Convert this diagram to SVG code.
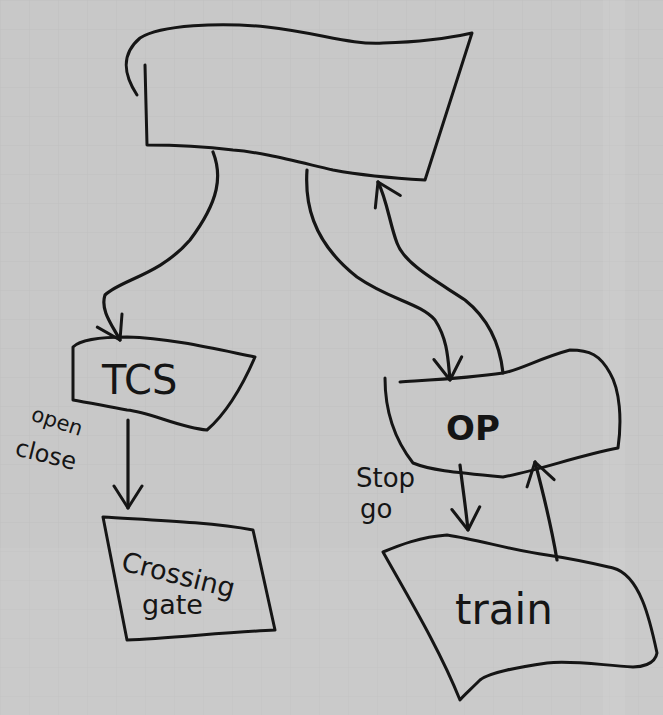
<svg xmlns="http://www.w3.org/2000/svg" width="663" height="715" viewBox="0 0 663 715">
<defs>
<pattern id="grid" width="29" height="29" patternUnits="userSpaceOnUse">
<path d="M29,0 L0,0 L0,29" fill="none" stroke="#c0c0c0" stroke-width="1"/>
</pattern>
<marker id="ah" markerUnits="userSpaceOnUse" markerWidth="40" markerHeight="40" refX="0" refY="0" viewBox="-24 -20 28 40" orient="auto">
<path d="M-22,-14 L0,0 L-22,14" fill="none" stroke="#151515" stroke-width="3" stroke-linecap="round" stroke-linejoin="round"/>
</marker>
<style>
.shape{fill:none;stroke:#151515;stroke-width:3;stroke-linecap:round;stroke-linejoin:round}
.edge{fill:none;stroke:#151515;stroke-width:3.2;stroke-linecap:round;marker-end:url(#ah)}
.t{font-family:"DejaVu Sans","Liberation Sans",sans-serif;fill:#151515}
</style>
</defs>
<rect width="663" height="715" fill="#c8c8c8"/>
<rect width="663" height="715" fill="url(#grid)"/>
<rect x="0" y="548" width="663" height="167" fill="#ffffff" opacity="0.05"/>
<rect x="603" y="0" width="22" height="715" fill="#ffffff" opacity="0.07"/>

<g id="top">
<path class="shape" d="M137,95 C124,75 120,55 140,38 C160,25 220,22 267,27 C320,33 350,45 383,43 C420,42 450,38 472,33 L425,180 C390,178 360,175 333,170 C290,160 260,152 233,150 C200,146 170,145 147,145 L145,65"/>
</g>

<g id="tcs">
<path class="shape" d="M73,347 C80,340 100,337 127,337 C170,338 220,350 255,357 C245,380 230,410 207,430 C180,428 150,412 127,410 C100,405 85,402 73,400 Z"/>
<text class="t" x="102" y="394" font-size="40">TCS</text>
</g>

<g id="crossing">
<path class="shape" d="M103,517 C150,520 210,522 253,530 L275,630 C230,632 170,638 127,640 Z"/>
<text class="t" x="120" y="570" font-size="27" transform="rotate(14 120 570)">Crossing</text>
<text class="t" x="142" y="614" font-size="27">gate</text>
</g>

<g id="op">
<path class="shape" d="M385,378 C385,410 395,440 413,463 C430,470 450,472 503,477 C540,470 580,455 618,448 C622,420 620,390 610,373 C600,355 590,350 570,350 C540,358 520,370 503,373 C470,378 430,380 400,382"/>
<text class="t" x="446" y="440" font-size="34" font-weight="bold">OP</text>
</g>

<g id="train">
<path class="shape" d="M383,552 C400,545 420,537 447,535 C480,540 510,550 547,555 C580,560 600,565 613,568 C640,575 650,620 657,653 C655,665 640,667 633,667 C600,665 570,660 547,663 C520,667 490,672 480,680 C470,690 462,697 460,700 C440,650 410,600 383,552 Z"/>
<text class="t" x="455" y="624" font-size="42">train</text>
</g>

<g id="connectors">
<path class="edge" d="M213,152 C222,175 220,200 190,240 C160,275 120,280 105,295 C100,310 112,325 120,340"/>
<path class="edge" d="M128,420 C128,450 128,480 128,508"/>
<path class="edge" d="M307,170 C305,200 310,240 357,277 C390,300 420,303 435,320 C448,340 448,360 450,380"/>
<path class="edge" d="M503,373 C500,345 490,320 465,300 C440,283 405,265 397,243 C390,225 387,200 378,182"/>
<path class="edge" d="M460,465 C463,490 466,510 468,530"/>
<path class="edge" d="M557,560 C552,530 545,500 535,462"/>
<text class="t" x="30" y="420" font-size="21" transform="rotate(18 30 420)">open</text>
<text class="t" x="14" y="455" font-size="24" transform="rotate(14 14 455)">close</text>
<text class="t" x="356" y="487" font-size="26">Stop</text>
<text class="t" x="360" y="518" font-size="26">go</text>
</g>
</svg>
